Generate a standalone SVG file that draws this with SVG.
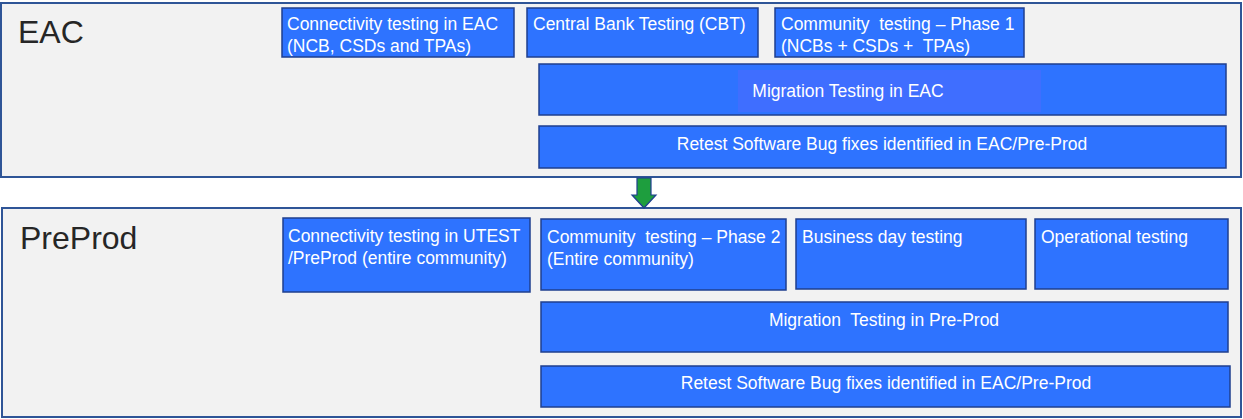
<svg xmlns="http://www.w3.org/2000/svg" width="1243" height="419" viewBox="0 0 1243 419">
<style>
.panel{fill:#f2f2f2;stroke:#2f5597;stroke-width:2}
.box{fill:#2e73ff;stroke:#1f3f8f;stroke-width:1.5}
.t{font-family:"Liberation Sans",Arial,sans-serif;font-size:17.5px;fill:#ffffff;white-space:pre}
.c{text-anchor:middle}
.big{font-family:"Liberation Sans",Arial,sans-serif;font-size:32px;fill:#262626}
</style>
<rect width="1243" height="419" fill="#ffffff"/>
<g id="eac">
<rect class="panel" x="1" y="3" width="1240" height="174"/>
<text class="big" x="18" y="43">EAC</text>
</g>
<g id="preprod">
<rect class="panel" x="2" y="208" width="1239" height="209"/>
<text class="big" x="20" y="249">PreProd</text>
</g>
<g id="conn-eac">
<rect class="box" x="282" y="8" width="232" height="49"/>
<text class="t" x="287" y="30">Connectivity testing in EAC</text>
<text class="t" x="287" y="52">(NCB, CSDs and TPAs)</text>
</g>
<g id="cbt">
<rect class="box" x="527" y="8" width="231" height="49"/>
<text class="t" x="533" y="30">Central Bank Testing (CBT)</text>
</g>
<g id="community1">
<rect class="box" x="775" y="8" width="249" height="49"/>
<text class="t" x="781" y="30">Community  testing – Phase 1</text>
<text class="t" x="781" y="52">(NCBs + CSDs +  TPAs)</text>
</g>
<g id="migration-eac">
<rect class="box" x="539" y="64" width="687" height="51"/>
<rect x="738" y="70" width="303" height="42" fill="#3f6eff"/>
<text class="t c" x="848" y="97">Migration Testing in EAC</text>
</g>
<g id="retest-eac">
<rect class="box" x="539" y="126" width="687" height="42"/>
<text class="t c" x="882" y="150">Retest Software Bug fixes identified in EAC/Pre-Prod</text>
</g>
<g id="conn-utest">
<rect class="box" x="283" y="218" width="247" height="74"/>
<text class="t" x="288" y="242">Connectivity testing in UTEST</text>
<text class="t" x="288" y="264">/PreProd (entire community)</text>
</g>
<g id="community2">
<rect class="box" x="541" y="219" width="245" height="71"/>
<text class="t" x="547" y="243">Community  testing – Phase 2</text>
<text class="t" x="547" y="265">(Entire community)</text>
</g>
<g id="business-day">
<rect class="box" x="796" y="219" width="230" height="70"/>
<text class="t" x="802" y="243">Business day testing</text>
</g>
<g id="operational">
<rect class="box" x="1035" y="219" width="193" height="70"/>
<text class="t" x="1041" y="243">Operational testing</text>
</g>
<g id="migration-pp">
<rect class="box" x="541" y="302" width="687" height="50"/>
<text class="t c" x="884" y="326">Migration  Testing in Pre-Prod</text>
</g>
<g id="retest-pp">
<rect class="box" x="541" y="366" width="689" height="41"/>
<text class="t c" x="886" y="389">Retest Software Bug fixes identified in EAC/Pre-Prod</text>
</g>
<g id="connectors">
<path d="M637,178 H651 V195 H656 L644,208 L632,195 H637 Z" fill="#1e9e3e" stroke="#1f3f8f" stroke-width="1.2"/>
</g>
</svg>
